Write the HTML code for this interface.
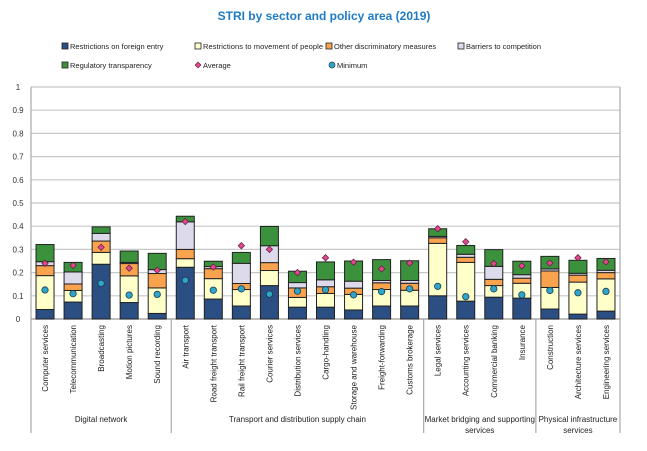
<!DOCTYPE html>
<html><head><meta charset="utf-8"><style>
body{margin:0;background:#fff;font-family:"Liberation Sans",sans-serif}
svg text{font-family:"Liberation Sans",sans-serif}
</style></head><body>
<svg id="c" width="647" height="446"></svg>
<script>
const categories=["Computer services","Telecommunication","Broadcasting","Motion pictures","Sound recording","Air transport","Road freight transport","Rail freight transport","Courier services","Distribution services","Cargo-handling","Storage and warehouse","Freight-forwarding","Customs brokerage","Legal services","Accounting services","Commercial banking","Insurance","Construction","Architecture services","Engineering services"];
const foreignEntry=[0.041,0.073,0.236,0.071,0.024,0.223,0.086,0.056,0.144,0.051,0.051,0.039,0.056,0.056,0.100,0.077,0.094,0.090,0.043,0.021,0.034];
const movementPeople=[0.146,0.050,0.051,0.115,0.110,0.037,0.088,0.071,0.065,0.042,0.059,0.067,0.071,0.068,0.226,0.167,0.050,0.064,0.093,0.138,0.139];
const otherDiscrim=[0.043,0.028,0.049,0.053,0.062,0.040,0.043,0.026,0.034,0.041,0.029,0.027,0.029,0.030,0.024,0.022,0.027,0.022,0.071,0.030,0.027];
const barriersComp=[0.017,0.052,0.033,0.005,0.017,0.119,0.009,0.087,0.073,0.023,0.030,0.030,0.010,0.012,0.006,0.013,0.056,0.015,0.009,0.008,0.010];
const regTransparency=[0.074,0.041,0.028,0.049,0.070,0.024,0.023,0.047,0.083,0.049,0.077,0.087,0.090,0.085,0.033,0.038,0.072,0.058,0.054,0.056,0.051];
const averageVals=[0.240,0.231,0.309,0.219,0.210,0.420,0.224,0.316,0.300,0.200,0.264,0.245,0.216,0.241,0.389,0.333,0.239,0.229,0.241,0.264,0.246];
const minimumVals=[0.125,0.109,0.154,0.103,0.106,0.167,0.124,0.130,0.107,0.120,0.126,0.104,0.118,0.130,0.141,0.096,0.130,0.104,0.123,0.113,0.119];
const yTicks=[0,0.1,0.2,0.3,0.4,0.5,0.6,0.7,0.8,0.9,1];
const yTickLabels=["0","0.1","0.2","0.3","0.4","0.5","0.6","0.7","0.8","0.9","1"];
const groups=[{name:["Digital network"],start:0,end:5},{name:["Transport and distribution supply chain"],start:5,end:14},{name:["Market bridging and supporting","services"],start:14,end:18},{name:["Physical infrastructure","services"],start:18,end:21}];

const NS="http://www.w3.org/2000/svg";
const svg=document.getElementById('c');
function mk(t,a,p){const e=document.createElementNS(NS,t);for(const k in a)e.setAttribute(k,a[k]);(p||svg).appendChild(e);return e;}
const L=31,R=620,T=87,B=319;
const band=(R-L)/categories.length;
const y=v=>B-(v)*(B-T);
const x=i=>L+band*i+band/2;

const title=mk('text',{x:324,y:20,'text-anchor':'middle','font-size':12,'font-weight':'bold',fill:'#1f7cc4'});
title.textContent='STRI by sector and policy area (2019)';



yTicks.forEach((t,i)=>{
 const ln=mk('line',{x1:L,x2:R,y1:y(t),y2:y(t),stroke:i==0?'#999':'#c8c8c8','stroke-width':1.2});
 
 
 const tx=mk('text',{x:18,y:y(t)+3,'text-anchor':'middle','font-size':8,fill:'#333'});
 tx.textContent=yTickLabels[i];
 
 
});
mk('line',{x1:L,x2:L,y1:T,y2:433,stroke:'#aaa','stroke-width':1.2});
mk('line',{x1:R,x2:R,y1:T,y2:433,stroke:'#aaa','stroke-width':1.2});
groups.forEach((g,gi)=>{
 const sx=L+band*g.start;
 if(gi>0){const s=mk('line',{x1:sx,x2:sx,y1:B,y2:433,stroke:'#aaa','stroke-width':1.2});
 
 }
 const cx=L+band*(g.start+g.end)/2;
 g.name.forEach((n,k)=>{
  const t=mk('text',{x:cx,y:422+k*11,'text-anchor':'middle','font-size':8,fill:'#222'});
  t.textContent=n;
  
  
 });
});

const series=[foreignEntry,movementPeople,otherDiscrim,barriersComp,regTransparency];
const colors=['#2b4f82','#ffffca','#f9a34f','#dddaec','#3c923c'];
const snames=['foreign-entry','movement-people','other-discriminatory','barriers-competition','regulatory-transparency'];
const bw=18;
categories.forEach((c,i)=>{
 let acc=0;
 series.forEach((s,si)=>{
  const r=mk('rect',{x:x(i)-bw/2,y:y(acc+s[i]),width:bw,height:y(acc)-y(acc+s[i]),fill:colors[si],stroke:'#222','stroke-width':1});
  
  
  acc+=s[i];
 });
 const m=mk('circle',{cx:x(i),cy:y(minimumVals[i]),r:3.2,fill:'#2fa6c8',stroke:'#1b3b50','stroke-width':0.8});
 
 
 const ay=y(averageVals[i]),ax=x(i);
 const a=mk('polygon',{points:`${ax},${ay-3.2} ${ax+3.2},${ay} ${ax},${ay+3.2} ${ax-3.2},${ay}`,fill:'#e2478e',stroke:'#5a1f3a','stroke-width':0.7});
 
 
 const t=mk('text',{transform:`translate(${x(i)+3},325) rotate(-90)`,'text-anchor':'end','font-size':8,fill:'#222'});
 t.textContent=c;
 
 
});

const leg=[{n:'Restrictions on foreign entry',x:62,y:50,c:colors[0],k:'sq'},{n:'Restrictions to movement of people',x:195,y:50,c:colors[1],k:'sq'},{n:'Other discriminatory measures',x:326,y:50,c:colors[2],k:'sq'},{n:'Barriers to competition',x:458,y:50,c:colors[3],k:'sq'},
{n:'Regulatory transparency',x:62,y:69,c:colors[4],k:'sq'},{n:'Average',x:195,y:69,c:'#e2478e',k:'di'},{n:'Minimum',x:329,y:69,c:'#2fa6c8',k:'ci'}];
leg.forEach(l=>{
 const g=mk('g',{});
 
 
 if(l.k=='sq')mk('rect',{x:l.x,y:l.y-7,width:6,height:6,fill:l.c,stroke:'#222','stroke-width':0.8},g);
 else if(l.k=='di')mk('polygon',{points:`${l.x+3},${l.y-7} ${l.x+6},${l.y-4} ${l.x+3},${l.y-1} ${l.x},${l.y-4}`,fill:l.c,stroke:'#5a1f3a','stroke-width':0.6},g);
 else mk('circle',{cx:l.x+3,cy:l.y-4,r:3,fill:l.c,stroke:'#1b3b50','stroke-width':0.7},g);
 const t=mk('text',{x:l.x+8,y:l.y-1,'font-size':7.5,fill:'#222',textLength:l.k=='sq'&&l.n.length>30?'120':null},g);
 if(!(l.k=='sq'&&l.n.length>30))t.removeAttribute('textLength');
 t.textContent=l.n;
});
</script>
</body></html>
